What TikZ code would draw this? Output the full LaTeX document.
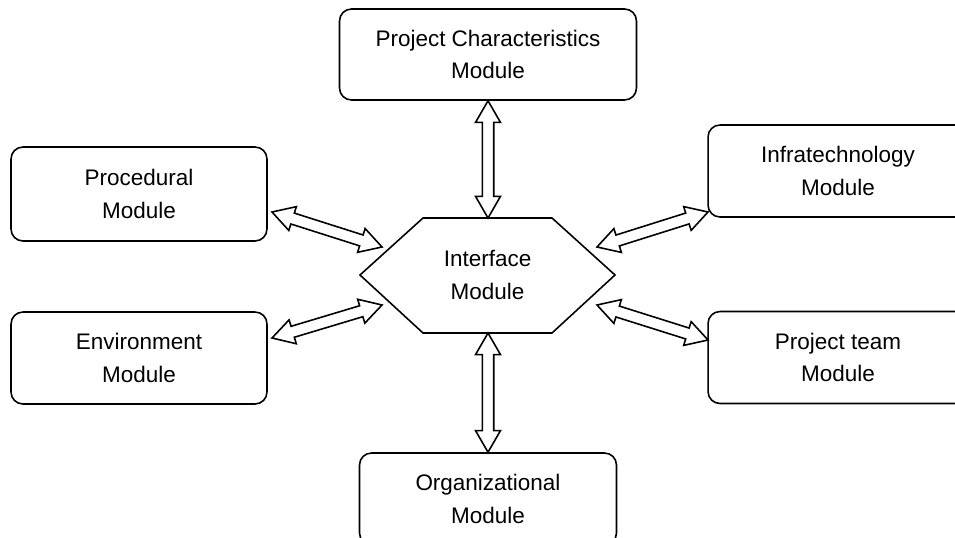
\documentclass[tikz,border=0pt]{standalone}
\usepackage{fontspec}
\setmainfont{Liberation Sans}
\usepackage{tikz}
\usetikzlibrary{
  calc,
  positioning
}
\definecolor{modLine}{HTML}{000000}
\definecolor{modFill}{HTML}{FFFFFF}
\tikzset{
  modtext/.style={
    align=center, inner sep=0pt, font=\fontsize{12.8}{18.5}\selectfont
  },
  modbox/.style={
    modtext, draw=modLine, fill=modFill, rounded corners=6.8pt, line width=0.9pt,
    minimum width=5.12cm, minimum height=1.84cm
  },
  hexline/.style={draw=modLine, fill=modFill, line width=0.9pt, line join=miter},
  dblarrow/.style={
    draw=modLine, fill=modFill, line width=0.9pt, line join=miter,
    to path={
      let \p1=($(\tikztotarget)-(\tikztostart)$),
          \n1={atan2(\y1,\x1)}, \n2={veclen(\x1,\y1)} in
      (\tikztostart)
      -- ($(\tikztostart)+(\n1:12.3pt)+(\n1+90:7.1pt)$)
      -- ($(\tikztostart)+(\n1:12.3pt)+(\n1+90:3.25pt)$)
      -- ($(\tikztostart)+(\n1:{\n2*1pt-12.3pt})+(\n1+90:3.25pt)$)
      -- ($(\tikztostart)+(\n1:{\n2*1pt-12.3pt})+(\n1+90:7.1pt)$)
      -- (\tikztotarget)
      -- ($(\tikztostart)+(\n1:{\n2*1pt-12.3pt})+(\n1-90:7.1pt)$)
      -- ($(\tikztostart)+(\n1:{\n2*1pt-12.3pt})+(\n1-90:3.25pt)$)
      -- ($(\tikztostart)+(\n1:12.3pt)+(\n1-90:3.25pt)$)
      -- ($(\tikztostart)+(\n1:12.3pt)+(\n1-90:7.1pt)$)
      -- cycle
    }
  }
}
\begin{document}
\begin{tikzpicture}[x=0.02cm, y=-0.02cm]
  \useasboundingbox (0,0) rectangle (955,537);
  \clip (0,0) rectangle (955,537);
  % modules
  \node[modbox, minimum width=5.94cm, minimum height=1.82cm] (chars) at (488,54.5) {Project Characteristics\\Module};
  \node[modbox, minimum height=1.88cm] (proc) at (139,194) {Procedural\\Module};
  \node[modbox] (env) at (139,358) {Environment\\Module};
  \node[modbox, minimum width=5.2cm] (infra) at (838,171) {Infratechnology\\Module};
  \node[modbox, minimum width=5.2cm] (team) at (838,357.5) {Project team\\Module};
  \node[modbox, minimum width=5.14cm] (org) at (488,499) {Organizational\\Module};
  % interface hexagon
  \draw[hexline] (360,275) -- (423,218) -- (552,218) -- (615,275) -- (552,333) -- (423,333) -- cycle;
  \node[modtext] (iface) at (487.5,275) {Interface\\Module};
  % arrow ends
  \coordinate (ifN) at (488,218);
  \coordinate (ifS) at (488,333);
  \coordinate (ifNW) at (382,247);
  \coordinate (ifSW) at (382,305);
  \coordinate (ifNE) at (597,247);
  \coordinate (ifSE) at (597,305);
  \coordinate (procE) at (272,212);
  \coordinate (envE) at (272,338);
  \coordinate (infraW) at (708,212);
  \coordinate (teamW) at (708,340);
  \coordinate (charsS) at (chars.south);
  \coordinate (orgN) at (org.north);
  % arrows
  \draw[dblarrow] (charsS) to (ifN);
  \draw[dblarrow] (ifS) to (orgN);
  \draw[dblarrow] (procE) to (ifNW);
  \draw[dblarrow] (envE) to (ifSW);
  \draw[dblarrow] (infraW) to (ifNE);
  \draw[dblarrow] (teamW) to (ifSE);
\end{tikzpicture}
\end{document}
